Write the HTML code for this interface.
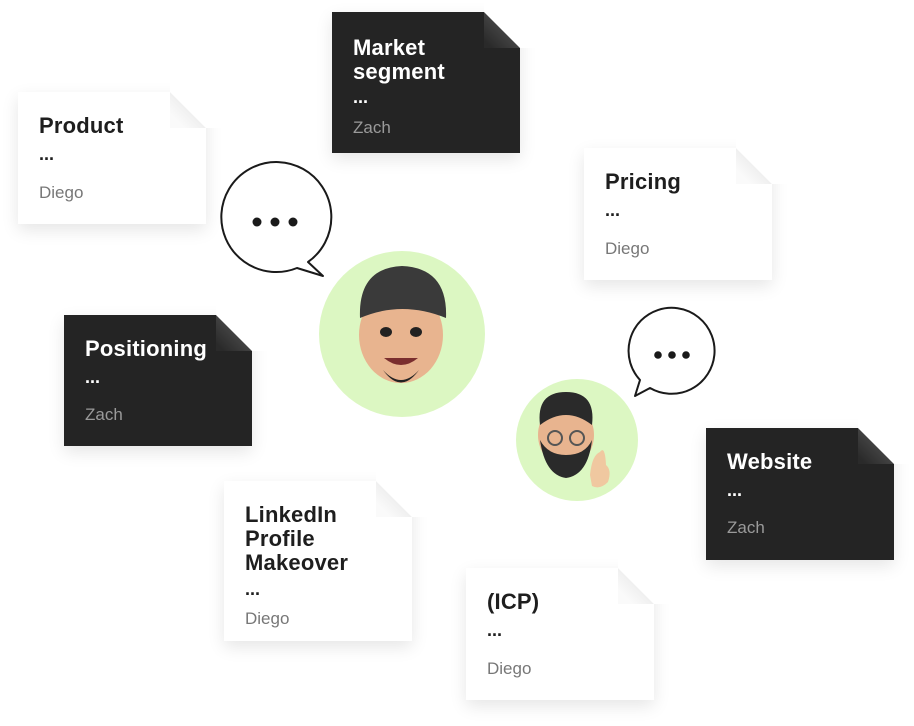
<!DOCTYPE html>
<html><head><meta charset="utf-8"><style>
html,body{margin:0;padding:0;background:#fff;width:914px;height:726px;overflow:hidden;position:relative;font-family:"Liberation Sans",sans-serif}
.c{position:absolute;width:188px;box-shadow:0 6px 16px rgba(0,0,0,0.10);clip-path:polygon(-20px -20px,152px -20px,152px 0,188px 36px,210px 36px,210px 200px,-20px 200px);}
.c .in{position:absolute;inset:0;clip-path:polygon(0 0,152px 0,188px 36px,188px 100%,0 100%);}
.w .in{background:#fff}
.d .in{background:#242424}
.f{position:absolute;left:152px;top:0;width:36px;height:36px;clip-path:polygon(0 0,100% 100%,0 100%)}
.w .f{background:linear-gradient(45deg,#fafafa 20%,#dedede 100%)}
.d .f{background:linear-gradient(45deg,#2a2a2a 10%,#606060 100%)}
.t{position:absolute;left:21px;top:22px;font-size:22px;line-height:24px;font-weight:bold;letter-spacing:0.2px}
.w .t{color:#1e1e1e}.d .t{color:#fff}
.dots{font-size:18px;line-height:14px;font-weight:bold;letter-spacing:0}
.n{position:absolute;left:21px;font-size:17px;line-height:20px}
.w .n{color:#777}.d .n{color:#9a9a9a}
</style></head><body>
<svg width="914" height="726" style="position:absolute;left:0;top:0">
<circle cx="402" cy="334" r="83" fill="#dcf7c2"/>
<circle cx="577" cy="440" r="61" fill="#dcf7c2"/>
<ellipse cx="401" cy="335" rx="42" ry="48" fill="#e8b48f"/>
<path d="M360 318 Q358 268 402 266 Q448 268 446 318 Q402 300 360 318Z" fill="#3a3a3a"/>
<path d="M383 370 Q401 395 419 370 Q410 380 401 380 Q392 380 383 370Z" fill="#222"/>
<ellipse cx="386" cy="332" rx="6" ry="5" fill="#222"/><ellipse cx="416" cy="332" rx="6" ry="5" fill="#222"/>
<path d="M384 358 Q401 372 418 358Z" fill="#7a2e2e"/>
<ellipse cx="566" cy="435" rx="28" ry="32" fill="#e8b48f"/>
<path d="M540 425 Q536 392 566 392 Q596 392 592 425 Q566 405 540 425Z" fill="#2a2a2a"/>
<path d="M540 440 Q545 475 566 478 Q588 475 592 440 Q585 455 566 455 Q548 455 540 440Z" fill="#2a2a2a"/>
<circle cx="555" cy="438" r="7" fill="none" stroke="#555" stroke-width="2"/><circle cx="577" cy="438" r="7" fill="none" stroke="#555" stroke-width="2"/>
<path d="M590 475 Q592 455 600 452 Q605 445 606 465 Q612 470 608 482 Q600 490 592 486Z" fill="#f0c8a0"/>
<path d="M308 262 A55 55 0 1 0 297 268 L323 276 Z" fill="#fff" stroke="#1a1a1a" stroke-width="2" stroke-linejoin="round"/>
<circle cx="257" cy="222" r="4.5" fill="#1a1a1a"/><circle cx="275" cy="222" r="4.5" fill="#1a1a1a"/><circle cx="293" cy="222" r="4.5" fill="#1a1a1a"/>
<path d="M640 380 A43 43 0 1 1 650 388 L635 396 Z" fill="#fff" stroke="#1a1a1a" stroke-width="2" stroke-linejoin="round"/>
<circle cx="658" cy="355" r="3.8" fill="#1a1a1a"/><circle cx="672" cy="355" r="3.8" fill="#1a1a1a"/><circle cx="686" cy="355" r="3.8" fill="#1a1a1a"/>
</svg>

<div class="c w" style="left:18px;top:92px;height:132px"><div class="in"></div><div class="f"></div>
<div class="t">Product</div><div class="t dots" style="top:55px">...</div><div class="n" style="top:91px">Diego</div></div>

<div class="c d" style="left:332px;top:12px;height:141px"><div class="in"></div><div class="f"></div>
<div class="t" style="top:24px">Market<br>segment</div><div class="t dots" style="top:78px">...</div><div class="n" style="top:106px">Zach</div></div>

<div class="c w" style="left:584px;top:148px;height:132px"><div class="in"></div><div class="f"></div>
<div class="t">Pricing</div><div class="t dots" style="top:55px">...</div><div class="n" style="top:91px">Diego</div></div>

<div class="c d" style="left:64px;top:315px;height:131px"><div class="in"></div><div class="f"></div>
<div class="t">Positioning</div><div class="t dots" style="top:55px">...</div><div class="n" style="top:90px">Zach</div></div>

<div class="c w" style="left:224px;top:481px;height:160px"><div class="in"></div><div class="f"></div>
<div class="t">LinkedIn<br>Profile<br>Makeover</div><div class="t dots" style="top:101px">...</div><div class="n" style="top:128px">Diego</div></div>

<div class="c w" style="left:466px;top:568px;height:132px"><div class="in"></div><div class="f"></div>
<div class="t">(ICP)</div><div class="t dots" style="top:55px">...</div><div class="n" style="top:91px">Diego</div></div>

<div class="c d" style="left:706px;top:428px;height:132px"><div class="in"></div><div class="f"></div>
<div class="t">Website</div><div class="t dots" style="top:55px">...</div><div class="n" style="top:90px">Zach</div></div>
</body></html>
